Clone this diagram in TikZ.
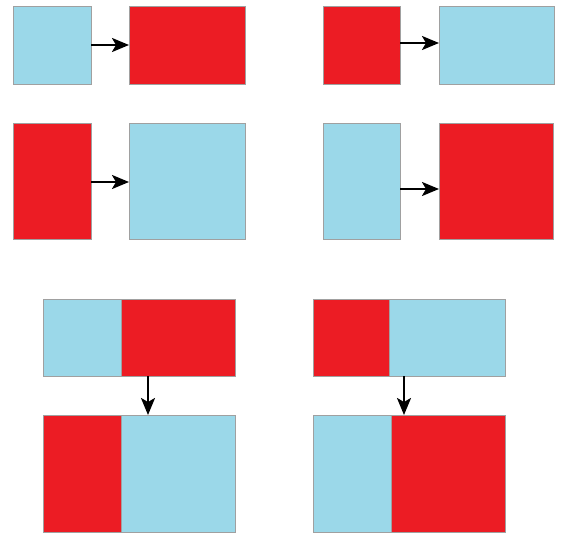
\documentclass[tikz,border=0pt]{standalone}
\usetikzlibrary{arrows.meta}
\definecolor{cblue}{HTML}{9BD8E9}
\definecolor{cred}{HTML}{EC1C24}
\definecolor{cedge}{HTML}{A0A0A0}
\begin{document}
\begin{tikzpicture}[x=1pt,y=-1pt,
  box/.style={draw=cedge,line width=1pt,inner sep=0pt,outer sep=0pt,anchor=north west},
  bl/.style={box,fill=cblue},
  rd/.style={box,fill=cred},
  arr/.style={line width=2.4pt,-{Stealth[length=17pt,width=14pt,inset=4pt]}}]
\useasboundingbox (0,0) rectangle (565,540);
% row 1
\node[bl,minimum width=78pt,minimum height=78pt] (a1) at (13,7) {};
\node[rd,minimum width=116pt,minimum height=78pt] (a2) at (129,7) {};
\draw[arr] (a1.east |- 0,45) coordinate (a1e) -- (a1e -| a2.west);
\node[rd,minimum width=77pt,minimum height=78pt] (b1) at (323,7) {};
\node[bl,minimum width=115pt,minimum height=78pt] (b2) at (439,7) {};
\draw[arr] (b1.east |- 0,43) coordinate (b1e) -- (b1e -| b2.west);
% row 2
\node[rd,minimum width=78pt,minimum height=116pt] (c1) at (13,124) {};
\node[bl,minimum width=116pt,minimum height=116pt] (c2) at (129,124) {};
\draw[arr] (c1.east |- 0,182) coordinate (c1e) -- (c1e -| c2.west);
\node[bl,minimum width=77pt,minimum height=116pt] (d1) at (323,124) {};
\node[rd,minimum width=114pt,minimum height=116pt] (d2) at (439,124) {};
\draw[arr] (d1.east |- 0,189) coordinate (d1e) -- (d1e -| d2.west);
% row 3 left
\node[bl,minimum width=78pt,minimum height=77pt] (e1) at (43,299) {};
\node[rd,minimum width=114pt,minimum height=77pt] (e2) at (121,299) {};
\node[rd,minimum width=78pt,minimum height=117pt] (f1) at (43,415) {};
\node[bl,minimum width=114pt,minimum height=117pt] (f2) at (121,415) {};
\draw[arr] (e2.south -| 148,0) coordinate (e2s) -- (e2s |- f2.north);
% row 3 right
\node[rd,minimum width=76pt,minimum height=77pt] (g1) at (313,299) {};
\node[bl,minimum width=116pt,minimum height=77pt] (g2) at (389,299) {};
\node[bl,minimum width=78pt,minimum height=117pt] (h1) at (313,415) {};
\node[rd,minimum width=114pt,minimum height=117pt] (h2) at (391,415) {};
\draw[arr] (g2.south -| 404,0) coordinate (g2s) -- (g2s |- h2.north);
\end{tikzpicture}
\end{document}
